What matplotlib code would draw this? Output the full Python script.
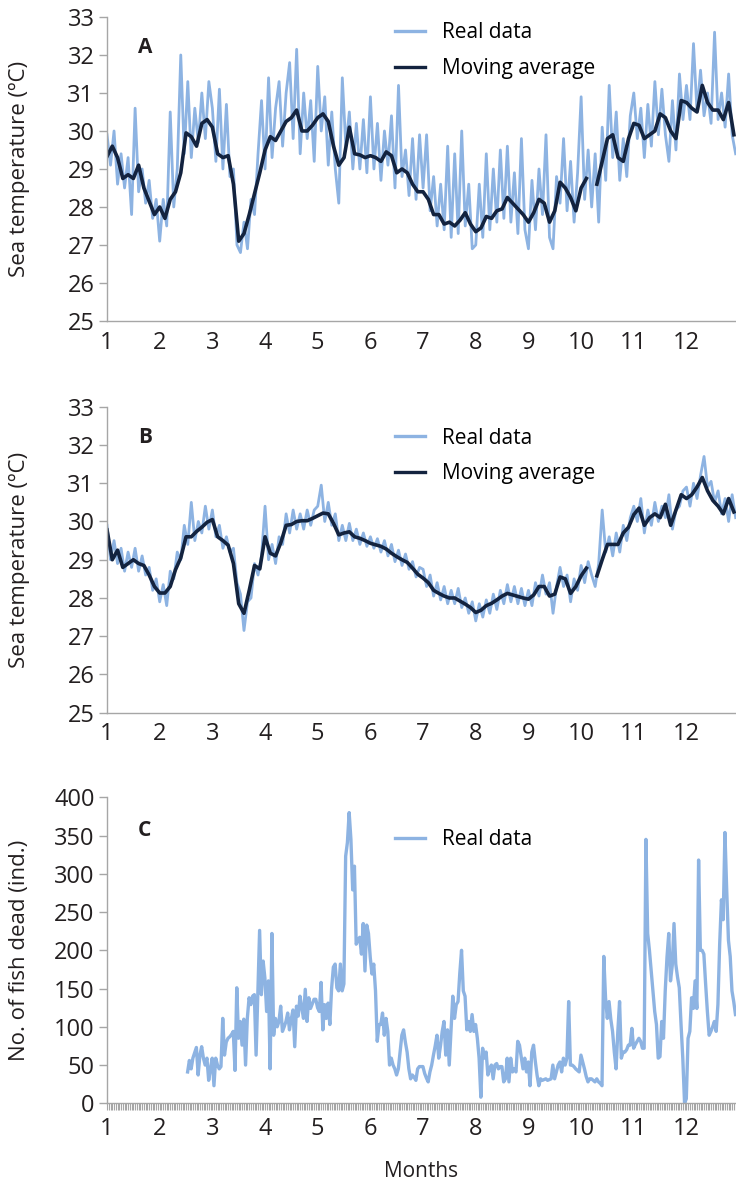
"""
Sea temperature (real data and moving average) and fish mortality by month
"""

import numpy as np
import matplotlib
matplotlib.use('Agg')
import matplotlib.pyplot as plt
from matplotlib.ticker import MultipleLocator

plt.rcParams['font.family'] = ['Open Sans', 'DejaVu Sans']

REAL_COLOR = '#8db3e2'
AVG_COLOR = '#13233f'
SPINE_COLOR = '#a6a6a6'
TEXT_COLOR = '#231f20'

month_ticks = list(range(1, 13))
temp_ticks = list(range(25, 34))
dead_ticks = list(range(0, 401, 50))

# Panel A: real data, one value every 1/15 month from month 1
temp_a_real = [
    29.9, 29.1, 30.0, 28.6, 29.4, 28.5, 29.3, 27.8, 30.6, 28.4, 29.0, 28.1, 28.7, 27.7, 28.2,
    27.1, 28.2, 27.5, 30.5, 28.0, 29.0, 32.0, 29.4, 31.3, 29.3, 30.6, 29.7, 31.0, 29.8, 31.3,
    30.6, 29.2, 31.1, 29.0, 30.7, 28.8, 29.0, 27.0, 26.8, 27.6, 26.9, 28.2, 27.8, 29.4, 30.8,
    29.0, 31.4, 29.3, 30.6, 31.3, 29.6, 31.0, 31.8, 29.8, 32.15, 29.4, 31.0, 29.8, 30.8, 29.2,
    31.7, 30.0, 30.9, 29.1, 30.5, 29.0, 28.1, 31.4, 29.6, 30.5, 29.0, 30.2, 29.0, 30.3, 28.9,
    30.9, 29.0, 30.2, 28.7, 30.0, 29.1, 30.4, 28.5, 31.2, 28.8, 29.5, 28.3, 29.8, 28.2, 29.9,
    28.5, 29.9, 27.9, 28.8, 27.5, 28.6, 27.4, 29.6, 27.2, 29.4, 27.3, 30.0, 27.5, 28.6, 26.9,
    27.0, 28.6, 27.2, 29.4, 27.4, 29.0, 27.6, 29.5, 27.7, 29.6, 27.6, 28.9, 27.3, 29.8, 27.4,
    26.9, 28.7, 27.4, 29.0, 27.8, 29.9, 27.2, 26.9, 28.8, 28.1, 29.8, 27.9, 29.2, 27.6, 28.9,
    30.9, 28.2, 29.5, 28.0, 29.4, 27.6, 30.1, 28.7, 31.2, 29.3, 30.5, 28.7, 29.8, 28.8, 30.4,
    31.0, 29.8, 30.6, 29.3, 30.7, 29.6, 31.3, 29.9, 31.1, 29.9, 29.2, 30.8, 29.5, 31.5, 30.3,
    31.2, 30.3, 32.3, 30.5, 31.6, 30.4, 31.0, 30.2, 32.6, 30.3, 31.0, 30.1, 31.5, 29.9, 29.4,
]

# Panel A: moving average, one value every 1/10 month from month 1
temp_a_avg = [
    29.33, 29.6, 29.3, 28.75, 28.85, 28.75, 29.1, 28.5, 28.15, 27.8,
    28.0, 27.7, 28.2, 28.4, 28.9, 29.95, 29.85, 29.6, 30.2, 30.3,
    30.1, 29.4, 29.3, 29.35, 28.6, 27.1, 27.3, 27.8, 28.35, 28.9,
    29.5, 29.85, 29.75, 30.0, 30.25, 30.35, 30.55, 30.0, 30.0, 30.15,
    30.35, 30.45, 30.25, 29.6, 29.1, 29.3, 30.1, 29.4, 29.37, 29.3,
    29.35, 29.3, 29.2, 29.45, 29.35, 28.9, 29.0, 28.9, 28.6, 28.4,
    28.4, 28.2, 27.8, 27.8, 27.55, 27.6, 27.5, 27.65, 27.85, 27.55,
    27.35, 27.45, 27.75, 27.7, 27.9, 27.95, 28.25, 28.1, 27.95, 27.8,
    27.6, 27.85, 28.2, 28.1, 27.6, 27.9, 28.65, 28.5, 28.25, 27.9,
    28.5, 28.75, np.nan, 28.6, 29.2, 29.8, 29.9, 29.3, 29.2, 29.8,
    30.2, 30.15, 29.8, 29.9, 30.0, 30.45, 30.35, 30.0, 29.8, 30.8,
    30.75, 30.6, 30.5, 31.2, 30.75, 30.55, 30.55, 30.3, 30.75, 29.9,
]

# Panel B: real data, one value every 1/15 month from month 1
temp_b_real = [
    29.9, 29.0, 29.5, 28.9, 29.3, 28.7, 29.2, 28.8, 29.3, 28.7, 29.1, 28.6, 28.8, 28.2, 28.5,
    27.9, 28.35, 27.8, 28.7, 28.5, 29.2, 29.0, 29.9, 29.4, 30.5, 29.5, 30.0, 29.7, 30.4, 29.8,
    30.3, 29.6, 29.9, 29.3, 29.6, 29.2, 29.3, 28.4, 28.1, 27.15, 27.9, 28.0, 28.9, 28.6, 29.1,
    30.4, 29.0, 29.4, 28.9, 29.6, 29.4, 30.2, 29.7, 30.3, 29.8, 30.2, 29.8, 30.3, 29.9, 30.3,
    30.4, 30.95, 30.0, 30.5, 29.9, 30.2, 29.5, 29.9, 29.5, 29.95, 29.5, 29.8, 29.4, 29.7, 29.35,
    29.6, 29.3, 29.55, 29.2, 29.5, 29.1, 29.4, 28.95, 29.25, 28.85, 29.15, 28.75, 28.95, 28.55, 28.8,
    28.75, 28.3, 28.6, 28.05, 28.4, 27.95, 28.3, 27.85, 28.2, 27.85, 28.25, 27.75, 28.0, 27.6, 27.9,
    27.4, 27.85, 27.5, 27.95, 27.6, 28.1, 27.7, 28.2, 27.85, 28.35, 27.9, 28.3, 27.85, 28.25, 27.8,
    28.2, 27.8, 28.4, 28.05, 28.6, 28.1, 28.4, 27.6, 28.3, 28.8, 28.3, 28.6, 27.9, 28.5, 28.2,
    28.85, 28.4, 28.95, 28.6, 28.3, 28.9, 30.3, 29.2, 29.6, 29.1, 29.7, 29.2, 29.9, 29.5, 30.1,
    30.4, 30.0, 30.6, 29.7, 30.3, 29.9, 30.5, 30.0, 30.4, 30.1, 30.7, 29.8, 30.3, 30.4, 30.8,
    30.9, 30.4, 31.0, 30.6, 31.2, 31.7, 30.9, 31.05, 30.5, 30.8, 30.2, 30.6, 30.0, 30.7, 30.1,
]

# Panel B: moving average, one value every 1/10 month from month 1
temp_b_avg = [
    29.78, 29.0, 29.25, 28.8, 28.9, 29.0, 28.9, 28.85, 28.6, 28.3,
    28.13, 28.13, 28.3, 28.74, 29.05, 29.6, 29.6, 29.74, 29.85, 29.98,
    30.05, 29.6, 29.5, 29.38, 28.9, 27.85, 27.6, 28.2, 28.85, 28.76,
    29.6, 29.17, 29.1, 29.45, 29.9, 29.92, 30.0, 30.02, 30.02, 30.08,
    30.15, 30.22, 30.2, 29.95, 29.65, 29.7, 29.73, 29.6, 29.56, 29.5,
    29.43, 29.39, 29.35, 29.28, 29.17, 29.08, 29.0, 28.93, 28.78, 28.62,
    28.52, 28.4, 28.2, 28.12, 28.05, 28.0, 28.0, 27.92, 27.84, 27.75,
    27.62, 27.68, 27.8, 27.86, 27.95, 28.05, 28.12, 28.08, 28.04, 28.0,
    27.97, 28.08, 28.3, 28.3, 28.05, 28.1, 28.55, 28.5, 28.12, 28.3,
    28.58, 28.78, np.nan, 28.58, 29.0, 29.4, 29.4, 29.4, 29.7, 29.85,
    30.18, 30.35, 29.9, 30.1, 30.2, 30.1, 30.45, 29.9, 30.3, 30.7,
    30.6, 30.7, 30.9, 31.15, 30.8, 30.55, 30.4, 30.2, 30.6, 30.25,
]

# Panel C: fish dead per day, one value every 1/30 month from month 2.53
fish_dead = [
    41, 56, 45, 59, 66, 73, 37, 63, 74, 59, 50, 59, 30, 45, 59, 23, 59, 50, 45, 48,
    111, 63, 80, 85, 87, 90, 94, 43, 151, 85, 107, 76, 110, 50, 111, 138, 129, 140, 142, 63,
    146, 226, 142, 186, 164, 120, 160, 45, 222, 89, 111, 100, 107, 127, 94, 100, 107, 118, 96, 110,
    122, 74, 127, 114, 140, 125, 111, 149, 107, 138, 124, 130, 136, 136, 125, 120, 158, 96, 129, 111,
    131, 103, 150, 178, 182, 151, 147, 182, 147, 156, 323, 341, 380, 345, 279, 310, 208, 213, 217, 195,
    235, 173, 233, 222, 191, 169, 182, 147, 81, 103, 103, 118, 89, 111, 94, 50, 59, 50, 45, 37,
    45, 67, 89, 96, 80, 67, 45, 32, 37, 34, 30, 45, 48, 48, 48, 39, 33, 28, 41, 50,
    63, 75, 89, 59, 75, 94, 107, 63, 96, 50, 94, 140, 111, 129, 133, 170, 200, 147, 140, 96,
    107, 94, 116, 94, 103, 85, 59, 8, 72, 59, 67, 37, 45, 50, 32, 50, 52, 45, 48, 48,
    28, 32, 59, 28, 59, 41, 45, 41, 81, 76, 60, 45, 59, 41, 54, 23, 67, 76, 55, 37,
    23, 32, 30, 31, 32, 30, 31, 32, 50, 32, 41, 50, 54, 41, 59, 50, 59, 133, 50, 50,
    48, 45, 43, 41, 63, 54, 45, 35, 28, 32, 32, 30, 28, 32, 28, 26, 23, 192, 138, 111,
    133, 110, 94, 67, 45, 94, 133, 59, 67, 67, 70, 76, 76, 98, 72, 77, 81, 85, 81, 72,
    72, 345, 222, 200, 173, 147, 120, 103, 59, 61, 107, 85, 147, 191, 222, 160, 180, 235, 182, 165,
    151, 103, 59, 0, 6, 85, 94, 138, 124, 160, 124, 318, 200, 200, 195, 156, 120, 89, 94, 100,
    107, 94, 129, 208, 266, 240, 354, 279, 213, 192, 147, 133, 116,
]


def sample_months(values, start, per_month):
    """
    月份坐标: 按采样间隔给每个值一个时间
    """
    return start + np.arange(len(values)) / per_month


def style_axes(ax, ylim, yticks, x_ticks_len=0, x_pad=7):
    """
    坐标轴样式
    """
    ax.set_xlim(1, 12.94)
    ax.set_ylim(*ylim)
    ax.set_yticks(yticks)
    ax.set_xticks(month_ticks)
    for side in ['top', 'right']:
        ax.spines[side].set_visible(False)
    for side in ['left', 'bottom']:
        ax.spines[side].set_color(SPINE_COLOR)
        ax.spines[side].set_linewidth(1.0)
    ax.tick_params(axis='y', length=6, width=1, color=SPINE_COLOR, labelsize=17,
                   labelcolor=TEXT_COLOR, pad=3)
    ax.tick_params(axis='x', length=x_ticks_len, width=0.8, color=SPINE_COLOR, labelsize=17,
                   labelcolor=TEXT_COLOR, pad=x_pad)


def plot_temperature(ax, real, avg, letter, legend_y):
    """
    水温面板: 实测值 + 滑动平均
    """
    ax.plot(sample_months(real, 1, 15), real, color=REAL_COLOR, lw=2.0, label='Real data')
    ax.plot(sample_months(avg, 1, 10), avg, color=AVG_COLOR, lw=2.6, label='Moving average')
    style_axes(ax, (25, 33), temp_ticks)
    ax.set_ylabel('Sea temperature (ºC)', fontsize=16, color=TEXT_COLOR)
    ax.yaxis.set_label_coords(-0.122, 0.5)
    ax.text(0.06, 0.9, letter, transform=ax.transAxes, fontsize=15, fontweight='bold',
            ha='center', va='center', color=TEXT_COLOR)
    leg = ax.legend(loc='upper left', bbox_to_anchor=(0.458, legend_y), frameon=False,
                    fontsize=15, handlelength=1.45, handletextpad=0.8, labelspacing=0.7,
                    borderpad=0, borderaxespad=0)
    for line in leg.get_lines():
        line.set_linewidth(2.4)


def plot_fish(ax):
    """
    死鱼数量面板
    """
    ax.plot(sample_months(fish_dead, 2.53, 30), fish_dead, color=REAL_COLOR, lw=2.4,
            label='Real data')
    style_axes(ax, (0, 400), dead_ticks, x_ticks_len=5, x_pad=5)
    ax.xaxis.set_minor_locator(MultipleLocator(1 / 30))
    ax.tick_params(axis='x', which='minor', length=5, width=0.8, color=SPINE_COLOR)
    ax.set_ylabel('No. of fish dead (ind.)', fontsize=16, color=TEXT_COLOR)
    ax.yaxis.set_label_coords(-0.122, 0.5)
    ax.set_xlabel('Months', fontsize=15, color=TEXT_COLOR, labelpad=14)
    ax.text(0.06, 0.893, 'C', transform=ax.transAxes, fontsize=15, fontweight='bold',
            ha='center', va='center', color=TEXT_COLOR)
    leg = ax.legend(loc='upper left', bbox_to_anchor=(0.458, 0.897), frameon=False,
                    fontsize=15, handlelength=1.45, handletextpad=0.8,
                    borderpad=0, borderaxespad=0)
    for line in leg.get_lines():
        line.set_linewidth(2.4)


def main():
    """
    主函数
    """
    fig = plt.figure(figsize=(7.36, 11.8), dpi=100)
    ax_a = fig.add_axes([0.1454, 0.728, 0.8546, 0.2576])
    ax_b = fig.add_axes([0.1454, 0.396, 0.8546, 0.2593])
    ax_c = fig.add_axes([0.1454, 0.065, 0.8546, 0.2593])

    plot_temperature(ax_a, temp_a_real, temp_a_avg, 'A', 0.982)
    plot_temperature(ax_b, temp_b_real, temp_b_avg, 'B', 0.932)
    plot_fish(ax_c)

    fig.savefig('out.png', dpi=100)


if __name__ == '__main__':
    main()
